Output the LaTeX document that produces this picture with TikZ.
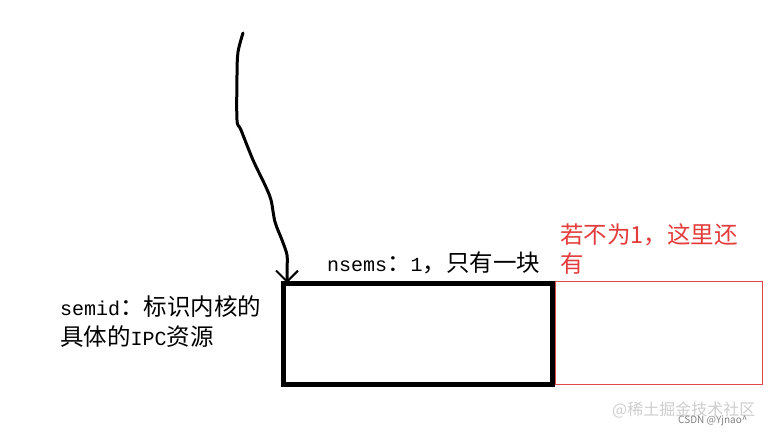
\documentclass[tikz,border=0pt]{standalone}
\usepackage{fontspec}
\usepackage{tikz}
\usetikzlibrary{arrows.meta}
\newfontfamily\hzfont{Noto Sans CJK SC}
\newfontfamily\ascfont{Liberation Mono}
\newcommand{\asc}[1]{{\ascfont\fontsize{20}{22}\selectfont #1}}
\definecolor{notered}{RGB}{228,60,60}
\definecolor{boxred}{RGB}{222,74,74}
\definecolor{markgray}{RGB}{205,205,205}

\tikzset{
	blacktext/.style={anchor=base west, inner sep=0pt, font=\fontsize{23.5}{27}\selectfont\hzfont},
	redtext/.style={anchor=base west, inner sep=0pt, text=notered, font=\fontsize{23.5}{27}\selectfont\hzfont},
	semblock/.style={draw=black, line width=5pt, anchor=north west, inner sep=0pt, minimum width=269pt, minimum height=101pt},
	spareblock/.style={draw=boxred, line width=1pt, anchor=north west, inner sep=0pt, minimum width=207pt, minimum height=103pt},
}

\begin{document}
\begin{tikzpicture}[x=1pt, y=-1pt]
		\useasboundingbox (0,0) rectangle (771,435);
		\node[semblock] (sem) at (281,281) {};
		\node[spareblock] (spare) at (554.5,281) {};
		\coordinate (top) at (243,33);
		\coordinate (tip) at (287,283);
		\draw[line width=3pt, line cap=round, line join=round, -{Straight Barb[length=11pt, width=22pt, line width=2pt]}]
			plot[smooth, tension=0.5] coordinates {(top) (238,52) (237,75) (237,120) (241,130) (253,160) (265,185) (271,200) (275,222) (282,240) (287,255) (287,270) (tip)};
		\node[blacktext] (nsems) at (327,272) {\asc{nsems}：\asc{1}，只有一块};
		\node[blacktext] (semidA) at (60,316) {\asc{semid}：标识内核的};
		\node[blacktext] (semidB) at (60,346) {具体的\asc{IPC}资源};
		\node[redtext] (moreA) at (560,244) {若不为1，这里还};
		\node[redtext] (moreB) at (560,273) {有};
		\node[anchor=base west, inner sep=0pt, text=markgray, font=\fontsize{16}{18}\selectfont\hzfont] (mark) at (612,416) {@稀土掘金技术社区};
		\node[anchor=base west, inner sep=0pt, text=gray, font=\fontsize{10}{12}\selectfont\hzfont] (csdn) at (678,424) {CSDN @Yjnao\^{}};
	\end{tikzpicture}
\end{document}
